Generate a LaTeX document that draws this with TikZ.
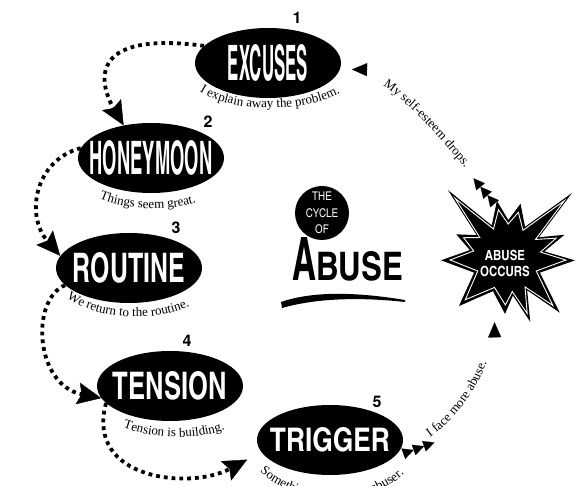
\documentclass[tikz,border=0pt]{standalone}
\usepackage{fontspec}
\usepackage{graphicx}
\usetikzlibrary{shapes.geometric,arrows.meta,decorations.text}
\newfontfamily\condfont[BoldFont=texgyreheroscn-bold.otf]{texgyreheroscn-regular.otf}
\newfontfamily\numfont{TeX Gyre Heros}
\newfontfamily\serifcap{Liberation Serif}
\newcommand{\stageword}[3]{\makebox[0pt]{\resizebox{#1pt}{#2pt}{\condfont\bfseries #3}}}
\newcommand{\capfont}{\serifcap\fontsize{13}{13}\selectfont}
\tikzset{
  stage/.style={ellipse, fill=black, text=white, minimum width=146pt, minimum height=70pt, inner sep=0pt},
  stagenum/.style={font=\numfont\bfseries\fontsize{16}{16}\selectfont, inner sep=0pt},
  caption/.style={decorate, decoration={text along path, text align=center, text={|\capfont|#1}}},
  dotarrow/.style={line width=3.8pt, dash pattern=on 3.8pt off 4pt,
    -{Stealth[length=24pt,width=22pt,inset=4pt,line width=0.4pt]}},
  cue/.style={draw=white, line width=0.1pt},
  Fletch/.tip={Triangle[reversed,length=11pt,width=11pt,color=black,fill=black]},
  Head/.tip={Triangle[length=15pt,width=13pt,color=black,fill=black]}
}
\begin{document}
\begin{tikzpicture}[x=1pt,y=-1pt]
        \useasboundingbox (0,0) rectangle (582,486);
        % Define the stages of the cycle
        \foreach \name/\x/\y/\w/\h/\word/\num/\nx/\ny in {
            excuses/268/63/80/36/EXCUSES/1/297/18,
            honeymoon/151/158/123/34/HONEYMOON/2/208/122,
            routine/129/268/112/30/ROUTINE/3/176/228,
            tension/170/386/114/28/TENSION/4/187/341,
            trigger/330/440/120/24/TRIGGER/5/377/402} {
                \node[stage] (\name) at (\x,\y) {\stageword{\w}{\h}{\word}};
                \node[stagenum] (\name-num) at (\nx,\ny) {\num};
        }
        % Add captions under the stages
        \path[caption={I explain away the problem.}] (192,86) .. controls (226,116) and (314,114) .. (348,88);
        \path[caption={Things seem great.}] (92,195) .. controls (120,211) and (175,213) .. (204,199);
        \path[caption={We return to the routine.}] (56,288) .. controls (85,323) and (170,326) .. (202,298);
        \path[caption={Tension is building.}] (114,424) .. controls (150,440) and (200,442) .. (234,426);
        \path[caption={Something sets off the abuser.}] (248,458) .. controls (285,512) and (382,512) .. (416,460);
        % Draw the burst
        \begin{scope}[shift={(507,258)}]
            \fill (2:68) \foreach \a/\r/\s in {24/36/32,46/76/66,58/38/34,70/68/59,81/38/34,92/56/47,113/36/32,
                    135/68/59,156/36/32,178/66/57,192/38/34,205/56/48,217/38/34,229/90/79,245/36/32,260/58/49,
                    272/38/34,284/56/47,300/36/32,315/92/81,327/38/34,338/62/53,350/38/34}
                {-- (\a:\r)} -- cycle;
            \draw[white, line width=0.9pt] (2:59) \foreach \a/\r/\s in {24/36/32,46/76/66,58/38/34,70/68/59,81/38/34,
                    92/56/47,113/36/32,135/68/59,156/36/32,178/66/57,192/38/34,205/56/48,217/38/34,229/90/79,
                    245/36/32,260/58/49,272/38/34,284/56/47,300/36/32,315/92/81,327/38/34,338/62/53,350/38/34}
                {-- (\a:\s)} -- cycle;
        \end{scope}
        \node[circle, minimum size=120pt, inner sep=0pt, text=white, align=center,
            font=\condfont\bfseries\fontsize{14}{16}\selectfont] (abuse) at (505,263) {ABUSE\\OCCURS};
        % Add the title
        \node[circle, fill=black, text=white, minimum size=54pt, inner sep=0pt, align=center,
            font=\condfont\fontsize{12}{16.5}\selectfont] (cycle) at (322,213) {THE\\CYCLE\\OF};
        \node[anchor=base west, inner sep=0pt] (title) at (292,281)
            {\condfont\bfseries\resizebox{24pt}{43pt}{A}\resizebox{87pt}{29pt}{BUSE}};
        \fill (281,302) .. controls (310,292) and (350,291) .. (405,300) -- (405,302)
            .. controls (350,296) and (310,300) .. (282,308) -- cycle;
        % Connect the stages
        \draw[dotarrow] (excuses.165) .. controls (85,30) and (100,85) .. (honeymoon.130);
        \draw[dotarrow] (honeymoon.172) .. controls (35,160) and (25,215) .. (routine.170);
        \draw[dotarrow] (routine.195) .. controls (30,300) and (35,385) .. (tension.190);
        \draw[dotarrow, shorten >=16pt] (tension.195) .. controls (85,480) and (190,490) .. (trigger.190);
        \draw[cue, {Fletch[]Fletch[]Fletch[]}-{Head[]}, shorten <=10pt, postaction={caption={I face more abuse.}}]
            (trigger.-15) .. controls (455,435) and (495,370) .. (abuse.260);
        \draw[cue, {Head[]}-{Fletch[]Fletch[]Fletch[]}, shorten <=12pt, postaction={caption={My self-esteem drops.}}]
            (excuses.-5) .. controls (390,70) and (450,150) .. (abuse.100);
\end{tikzpicture}
\end{document}
